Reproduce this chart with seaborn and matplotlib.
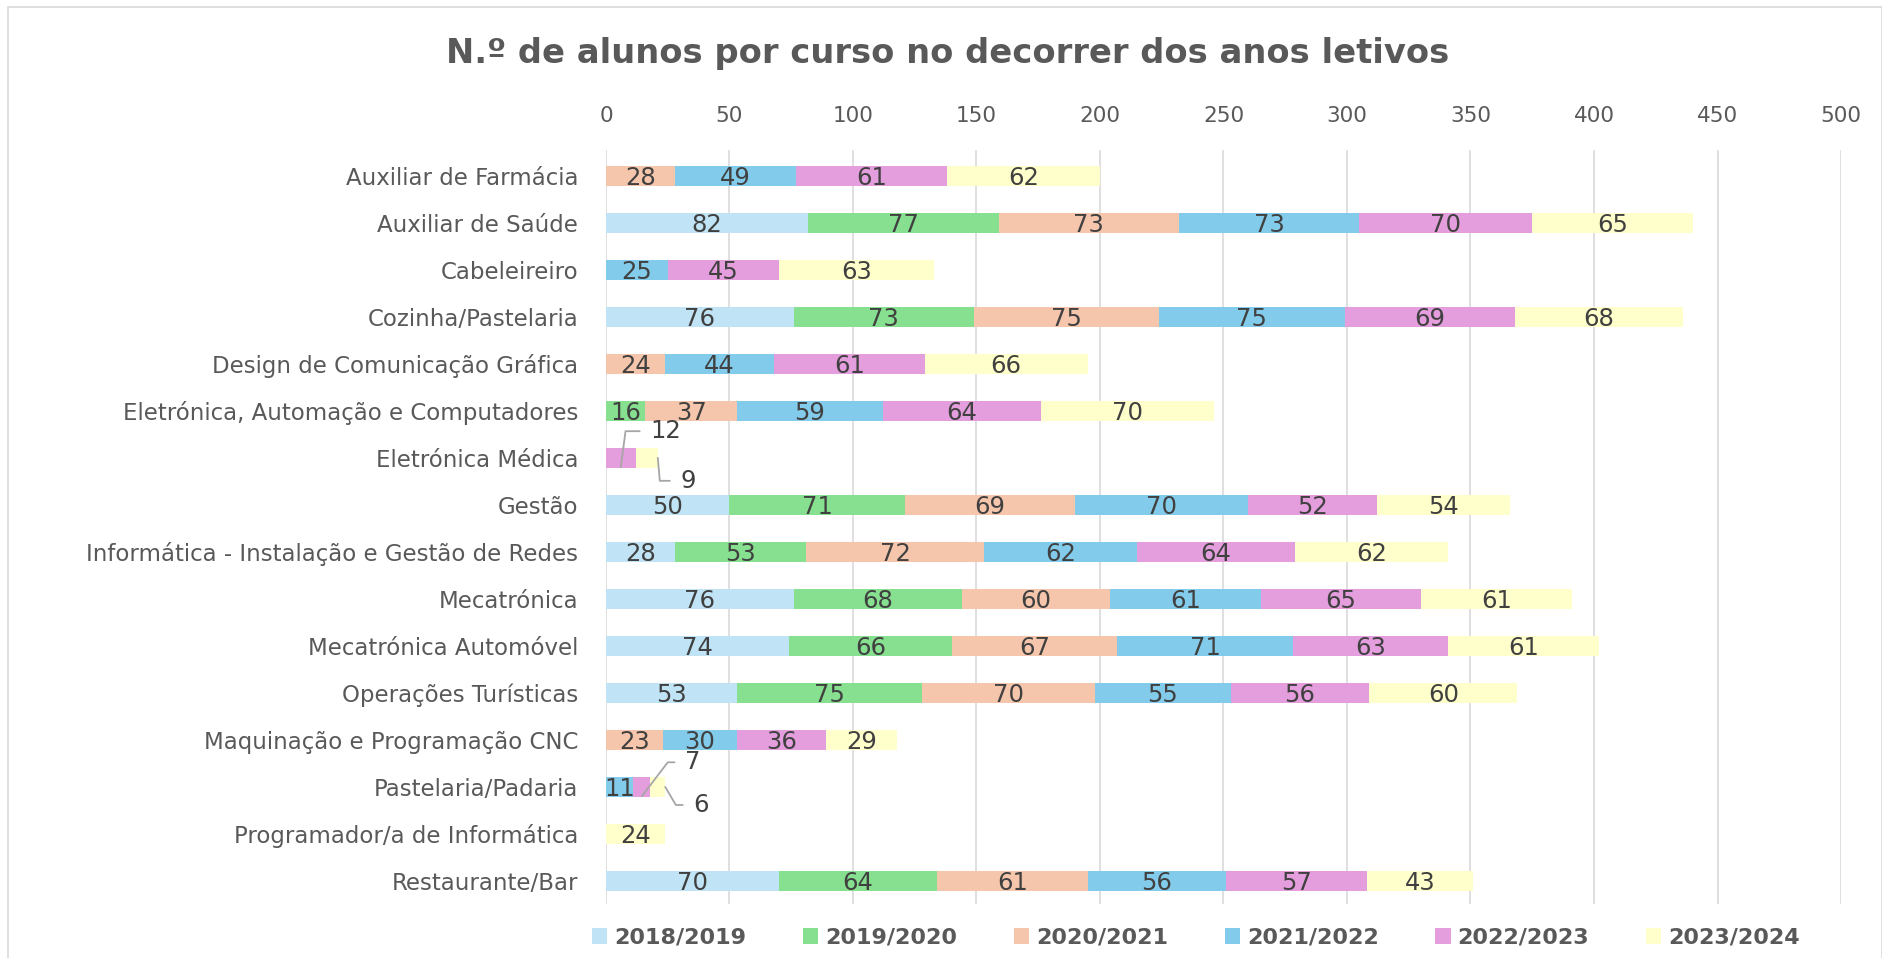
import numpy as np
import pandas as pd
import seaborn as sns
import matplotlib.pyplot as plt
from matplotlib.patches import Patch, Rectangle

cursos = ["Auxiliar de Farmácia", "Auxiliar de Saúde", "Cabeleireiro",
          "Cozinha/Pastelaria", "Design de Comunicação Gráfica",
          "Eletrónica, Automação e Computadores", "Eletrónica Médica", "Gestão",
          "Informática - Instalação e Gestão de Redes", "Mecatrónica",
          "Mecatrónica Automóvel", "Operações Turísticas",
          "Maquinação e Programação CNC", "Pastelaria/Padaria",
          "Programador/a de Informática", "Restaurante/Bar"]
anos = ["2018/2019", "2019/2020", "2020/2021", "2021/2022", "2022/2023", "2023/2024"]

a2018 = [0, 82, 0, 76, 0, 0, 0, 50, 28, 76, 74, 53, 0, 0, 0, 70]
a2019 = [0, 77, 0, 73, 0, 16, 0, 71, 53, 68, 66, 75, 0, 0, 0, 64]
a2020 = [28, 73, 0, 75, 24, 37, 0, 69, 72, 60, 67, 70, 23, 0, 0, 61]
a2021 = [49, 73, 25, 75, 44, 59, 0, 70, 62, 61, 71, 55, 30, 11, 0, 56]
a2022 = [61, 70, 45, 69, 61, 64, 12, 52, 64, 65, 63, 56, 36, 7, 0, 57]
a2023 = [62, 65, 63, 68, 66, 70, 9, 54, 62, 61, 61, 60, 29, 6, 24, 43]

cores = ["#C0E4F5", "#86E08F", "#F6C6AC", "#83CBEB", "#E59EDD", "#FFFFCC"]

series = [a2018, a2019, a2020, a2021, a2022, a2023]
vals = np.array(series)
cum = np.cumsum(vals, axis=0)
df = pd.DataFrame({"curso": cursos})
for k, ano in enumerate(anos):
    df[ano] = cum[k]

# labels drawn with leader lines: (row, series) -> (x anchor, dy, offset pts, angle)
leaders = {
    (6, 4): (6, 0.2, (21, 26), 82.5),
    (6, 5): (21, 0.0, (16, -16.5), -85),
    (13, 4): (14.5, 0.2, (31, 24.5), 52.6),
    (13, 5): (24, 0.0, (20, -13), -59.5),
}

sns.set_style("white")
plt.rcParams["font.family"] = ["DejaVu Sans"]

fig = plt.figure(figsize=(18.83, 9.58), dpi=100)
ax = fig.add_axes([0.3218, 0.0564, 0.6559, 0.787])

for k in range(len(anos) - 1, -1, -1):
    sns.barplot(data=df, x=anos[k], y="curso", color=cores[k], saturation=1,
                width=0.42, errorbar=None, linewidth=0, ax=ax, zorder=2)

for k in range(len(anos)):
    for i in range(len(cursos)):
        v = vals[k, i]
        if v == 0:
            continue
        start = cum[k, i] - v
        if (i, k) in leaders:
            xa, dy, off, ang = leaders[(i, k)]
            ax.annotate(str(v), xy=(xa, i + dy), xytext=off, textcoords="offset points",
                        ha="left", va="center", fontsize=17.5, color="#404040",
                        arrowprops=dict(arrowstyle="-", color="#A6A6A6", lw=1.3,
                                        shrinkA=5, shrinkB=0, relpos=(0, 0.5),
                                        connectionstyle=f"angle,angleA=0,angleB={ang},rad=0"))
        else:
            ax.text(start + v / 2, i + 0.04, str(v), ha="center", va="center",
                    fontsize=17.5, color="#404040", zorder=3)

ax.set_xlim(0, 500)
ax.set_ylim(15.49, -0.55)
ax.set_xticks(np.arange(0, 501, 50))
ax.xaxis.tick_top()
ax.set_xlabel("")
ax.set_ylabel("")
ax.grid(axis="x", color="#D9D9D9", linewidth=1.2)
ax.grid(axis="y", visible=False)
ax.set_axisbelow(True)
for s in ax.spines.values():
    s.set_visible(False)
ax.tick_params(axis="x", length=0, pad=17, labelsize=15.5, labelcolor="#595959")
ax.tick_params(axis="y", length=0, pad=20, labelsize=16.5, labelcolor="#595959")

fig.suptitle("N.º de alunos por curso no decorrer dos anos letivos", x=0.503, y=0.944,
             va="center", fontsize=24.3, fontweight="bold", color="#595959")

handles = [Patch(facecolor=c, edgecolor="none", label=a) for c, a in zip(cores, anos)]
leg = fig.legend(handles=handles, loc="center", bbox_to_anchor=(0.635, 0.021), ncol=6,
                 frameon=False, handlelength=0.7, handleheight=0.7, handletextpad=0.3,
                 columnspacing=2.55, prop={"size": 16, "weight": "bold"})
for t in leg.get_texts():
    t.set_color("#595959")

fig.patches.append(Rectangle((0.0045, -0.01), 0.995, 1.0025, transform=fig.transFigure,
                             fill=False, edgecolor="#D9D9D9", linewidth=1.2))

fig.savefig("out.png", dpi=100)
